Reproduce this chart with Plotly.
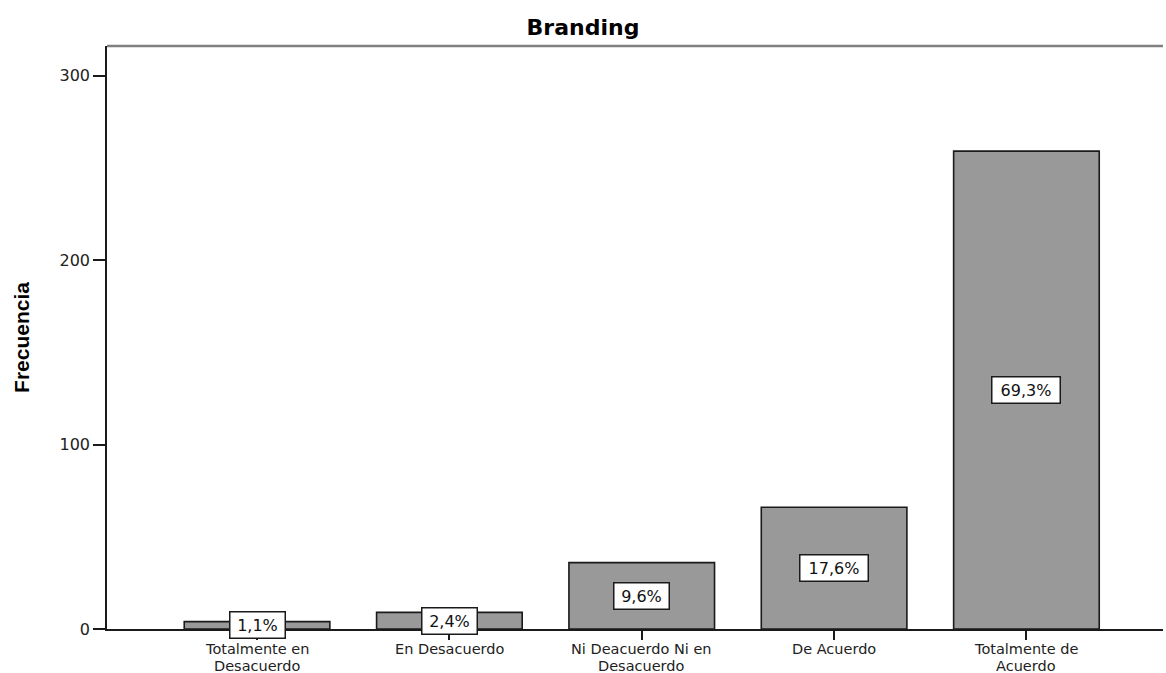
import plotly.graph_objects as go

categories = ["Totalmente en<br>Desacuerdo", "En Desacuerdo", "Ni Deacuerdo Ni en<br>Desacuerdo",
              "De Acuerdo", "Totalmente de<br>Acuerdo"]
frequencies = [4, 9, 36, 66, 259]
pct_labels = ["1,1%", "2,4%", "9,6%", "17,6%", "69,3%"]
y_ticks = [0, 100, 200, 300]

x_idx = list(range(len(categories)))
FONT = "DejaVu Sans, Verdana, sans-serif"

fig = go.Figure()
fig.add_trace(go.Bar(
    x=x_idx, y=frequencies,
    marker=dict(color="#999999", line=dict(color="#1a1a1a", width=1.6)),
    width=0.757,
    hoverinfo="skip",
))

for i, (v, t) in enumerate(zip(frequencies, pct_labels)):
    fig.add_annotation(
        x=i, y=v / 2, text=t, showarrow=False,
        font=dict(family=FONT, size=16, color="#111111"),
        bgcolor="white", bordercolor="#1a1a1a", borderwidth=1.5, borderpad=2,
        width=13 * len(t) - 2, height=21, align="center",
        xref="x", yref="y",
    )

# category labels (one annotation per line for tight line spacing)
for i, cat in enumerate(categories):
    for j, line in enumerate(cat.split("<br>")):
        fig.add_annotation(
            x=i, y=0, xref="x", yref="paper", text=line, showarrow=False,
            xanchor="center", yanchor="middle", yshift=-19.5 - 16.5 * j,
            height=15, borderpad=0,
            font=dict(family=FONT, size=14.5, color="#222222"),
        )

# top frame line
fig.add_shape(type="line", xref="paper", yref="paper", x0=0, x1=1, y0=1, y1=1,
              line=dict(color="#808080", width=2.5))

fig.update_layout(
    width=1166, height=673,
    margin=dict(l=107, r=3, t=46, b=44),
    paper_bgcolor="white", plot_bgcolor="white",
    showlegend=False,
    title=dict(text="<b>Branding</b>", x=0.5, xref="container", xanchor="center",
               y=1 - 27 / 673, yref="container", yanchor="middle",
               font=dict(family=FONT, size=22, color="#000000")),
    xaxis=dict(
        range=[-0.78, 4.71], tickmode="array", tickvals=x_idx, showticklabels=False,
        showgrid=False, zeroline=False, showline=True, linecolor="#1a1a1a", linewidth=1.5,
        ticks="outside", ticklen=9, tickwidth=1.5, tickcolor="#1a1a1a",
        automargin=False,
    ),
    yaxis=dict(
        range=[0, 316], tickmode="array", tickvals=y_ticks,
        showgrid=False, zeroline=False, showline=True, linecolor="#1a1a1a", linewidth=1.5,
        ticks="outside", ticklen=12, tickwidth=1.5, tickcolor="#1a1a1a",
        tickfont=dict(family=FONT, size=16, color="#222222"),
        automargin=False,
        title=dict(text="<b>Frecuencia</b>", standoff=24,
                   font=dict(family="Liberation Sans, Arial, sans-serif",
                             size=21, color="#000000")),
    ),
)

fig.write_html("out.html")
